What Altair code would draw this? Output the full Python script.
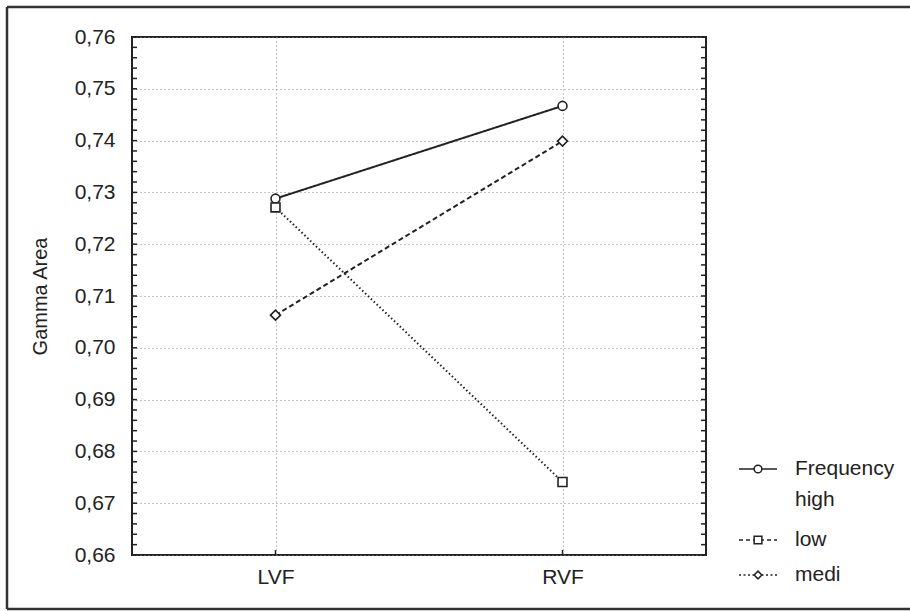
import altair as alt
import pandas as pd

# ---- data ----
conditions = ["LVF", "RVF"]
high = [0.7288, 0.7467]
low = [0.7271, 0.6741]
medi = [0.7063, 0.7399]
y_ticks = [0.66, 0.67, 0.68, 0.69, 0.70, 0.71, 0.72, 0.73, 0.74, 0.75, 0.76]
minor_ticks = [round(0.66 + 0.002 * i, 3) for i in range(51)]

rows = []
for name, vals in [("high", high), ("low", low), ("medi", medi)]:
    for c, v in zip(conditions, vals):
        rows.append({"cond": c, "value": v, "series": name})
df = pd.DataFrame(rows)
dummy = pd.DataFrame({"a": [0]})
ticks_df = pd.DataFrame({"t": minor_ticks})
cond_df = pd.DataFrame({"cond": conditions})

W, H = 574, 518
FONT = "Liberation Sans"
FS = 21
INK = "#222222"

xscale = alt.Scale(type="point", padding=0.5, domain=conditions)
yscale = alt.Scale(domain=[0.66, 0.76], nice=False, zero=False)

x_enc = alt.X("cond:N", scale=xscale, sort=conditions,
              axis=alt.Axis(title=None, labelFont=FONT, labelFontSize=FS, labelColor=INK,
                            labelAngle=0, ticks=False, domain=False, labelPadding=11,
                            grid=True, gridDash=[1, 3], gridColor="#888888", gridWidth=1))
y_enc = alt.Y("value:Q", scale=yscale,
              axis=alt.Axis(title="Gamma Area", values=y_ticks, ticks=False, domain=False,
                            labelExpr="replace(format(datum.value, '.2f'), '.', ',')",
                            labelFont=FONT, labelFontSize=FS, labelColor=INK, labelPadding=17,
                            titleFont=FONT, titleFontSize=20, titleFontWeight="normal",
                            titleColor=INK, titleX=-92, titleY=H / 2, titleAlign="center",
                            titleBaseline="middle", titleAngle=-90,
                            grid=True, gridDash=[1, 3], gridColor="#888888", gridWidth=1))

styles = {
    "high": {"dash": [1, 0], "shape": "circle"},
    "low": {"dash": [1.5, 2.5], "shape": "square"},
    "medi": {"dash": [5, 3], "shape": "diamond"},
}

layers = []
for name in ["high", "low", "medi"]:
    sub = df[df.series == name]
    st = styles[name]
    layers.append(alt.Chart(sub).mark_line(color=INK, strokeWidth=2, strokeDash=st["dash"])
                  .encode(x=x_enc, y=y_enc))
for name in ["high", "low", "medi"]:
    sub = df[df.series == name]
    st = styles[name]
    layers.append(alt.Chart(sub).mark_point(shape=st["shape"], filled=True, fill="white",
                                            stroke=INK, strokeWidth=1.6,
                                            size=100 if st["shape"] == "diamond" else 80, opacity=1)
                  .encode(x=alt.X("cond:N", scale=xscale), y=alt.Y("value:Q", scale=yscale)))

# minor ticks on left and right frame edges (inward)
layers.append(alt.Chart(ticks_df).mark_rule(color=INK, strokeWidth=1.5).encode(
    y=alt.Y("t:Q", scale=yscale), x=alt.value(0), x2=alt.value(5)))
layers.append(alt.Chart(ticks_df).mark_rule(color=INK, strokeWidth=1.5).encode(
    y=alt.Y("t:Q", scale=yscale), x=alt.value(W - 5), x2=alt.value(W)))
# x ticks
layers.append(alt.Chart(cond_df).mark_rule(color=INK, strokeWidth=1.5).encode(
    x=alt.X("cond:N", scale=xscale), y=alt.value(H - 5), y2=alt.value(H)))

# outer frame: top, left, bottom edges (right edge runs off the page)
FX1, FX2, FY1, FY2 = -125, 778, -30, 572
for ex, ex2, ey, ey2 in [(FX1, FX2, FY1, FY1), (FX1, FX1, FY1, FY2), (FX1, FX2, FY2, FY2)]:
    layers.append(alt.Chart(dummy).mark_rule(color="#333333", strokeWidth=2.5, clip=False).encode(
        x=alt.value(ex), x2=alt.value(ex2), y=alt.value(ey), y2=alt.value(ey2)))

# manual legend
LX1, LX2, LXM, LXT = 607, 645, 626, 663
legend_items = [
    ("high", 432, [1, 0], "circle"),
    ("low", 503, [4, 3], "square"),
    ("medi", 538, [2, 2.5], "diamond"),
]
for name, ly, dash, shape in legend_items:
    layers.append(alt.Chart(dummy).mark_rule(color=INK, strokeWidth=1.6, strokeDash=dash).encode(
        x=alt.value(LX1), x2=alt.value(LX2), y=alt.value(ly)))
    layers.append(alt.Chart(dummy).mark_point(shape=shape, filled=True, fill="white", stroke=INK,
                                              strokeWidth=1.5, size=60, opacity=1).encode(
        x=alt.value(LXM), y=alt.value(ly)))
legend_texts = [("Frequency", 432), ("high", 463), ("low", 503), ("medi", 538)]
for txt, ly in legend_texts:
    layers.append(alt.Chart(dummy).mark_text(text=txt, font=FONT, fontSize=FS, color=INK,
                                             align="left", baseline="middle").encode(
        x=alt.value(LXT), y=alt.value(ly)))

chart = alt.layer(*layers).properties(
    width=W, height=H,
    autosize=alt.AutoSizeParams(type="none"),
    padding={"left": 132, "top": 37, "right": 204, "bottom": 56},
    background="white",
).configure_view(stroke=INK, strokeWidth=2)

chart.save("out.html", embed_options={"renderer": "svg", "actions": False})
